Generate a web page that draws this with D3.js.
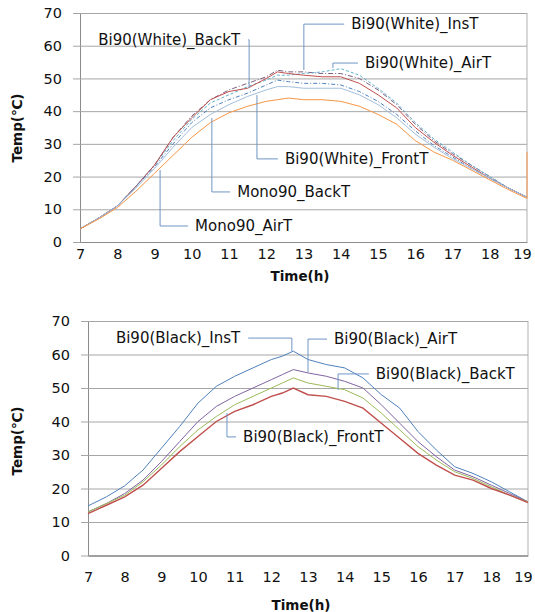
<!DOCTYPE html>
<html>
<head>
<meta charset="utf-8">
<script src="https://d3js.org/d3.v7.min.js"></script>
<style>
  body { margin: 0; background: #fff; }
  svg text { font-family: "DejaVu Sans", sans-serif; fill: #111; }
</style>
</head>
<body>
<div id="chart"></div>
<script>
// ---- data ----
// time of day in hours, shared by every series
let hours = [7, 7.5, 8, 8.5, 9, 9.5, 10, 10.5, 11, 11.5, 12, 12.3, 12.6, 13, 13.5, 14, 14.5, 15, 15.5, 16, 16.5, 17, 17.5, 18, 18.5, 19];
let hourTicks = [7, 8, 9, 10, 11, 12, 13, 14, 15, 16, 17, 18, 19];
let tempTicks = [0, 10, 20, 30, 40, 50, 60, 70];

// upper panel: white backsheet bifacial + mono
let whiteInsT   = [4, 7.3, 11, 17, 23.5, 32, 38.5, 43.5, 46.5, 48.5, 50.5, 52.5, 52, 52, 51.5, 51.5, 50, 46.5, 42, 36, 31, 27, 23.5, 20, 16.5, 13.7];
let whiteAirT   = [4, 7.3, 11, 17, 23.5, 31, 37.5, 42.5, 45, 47.5, 49.5, 51, 51, 51.5, 52, 53, 51, 47, 42.5, 36.5, 31.5, 27.5, 23.5, 20, 16.5, 13.7];
let whiteBackT  = [4, 7.3, 11, 17, 23.5, 32, 38, 43.5, 46, 47, 50, 52, 51.5, 51, 50.5, 50.5, 48.5, 45, 41, 35, 30.5, 26.5, 23, 19.5, 16.5, 13.7];
let whiteFrontT = [4, 7.3, 11, 17, 23, 30, 36.5, 41, 43.5, 45.5, 48, 49.5, 49, 48.5, 48.5, 48, 46, 43, 39, 34, 29.5, 26, 22.5, 19.5, 16.5, 13.7];
let monoBackT   = [4, 7.3, 11, 16.5, 22.5, 29, 35, 39, 42, 44.5, 46.5, 47.5, 47.5, 47, 47, 47, 45, 42, 38, 33, 29, 25.5, 22.5, 19.5, 16.5, 13.7];
let monoAirT    = [4, 7, 10.5, 15.5, 21, 26.5, 32, 36.5, 39.5, 41.5, 43, 43.5, 44, 43.5, 43.5, 43, 41.5, 39, 36, 31, 27.5, 25, 22, 19, 16, 13.3];
let monoAirTEnd = 27.5; // last reading at 19h jumps back up

// lower panel: black backsheet bifacial
let blackInsT   = [14.8, 17.5, 20.8, 25.5, 32, 38.5, 45.5, 50.5, 53.5, 56, 58.5, 59.5, 61, 58.5, 57, 56, 53, 48, 44, 37, 31.5, 26.5, 24.5, 22, 19, 16];
let blackAirT   = [13, 15.5, 18.5, 22.5, 28, 34, 40, 44.5, 47.5, 50, 52.5, 54, 55.5, 54.5, 53.5, 52, 50, 45, 39.5, 34, 29.5, 25.5, 23.5, 21, 18.5, 16];
let blackBackT  = [13, 15.5, 18, 22, 27, 32.5, 37.5, 41.5, 45, 47.5, 50, 51.5, 53, 51.5, 50.5, 49.5, 47, 42.5, 37.5, 32.5, 28.5, 25, 23, 20.5, 18, 16];
let blackFrontT = [12.5, 15, 17.5, 21, 26, 31, 35.5, 40, 43, 45, 47.5, 48.5, 50, 48, 47.5, 46, 44, 39.5, 35, 30.5, 27, 24, 22.5, 20, 18, 15.8];

// ---- series styles ----
let topSeries = [
  {name: "Bi90(White)_InsT",   values: whiteInsT,   color: "#7b5f80", dash: "5,2,1,2"},
  {name: "Bi90(White)_AirT",   values: whiteAirT,   color: "#5fb0cc", dash: "3,2"},
  {name: "Bi90(White)_BackT",  values: whiteBackT,  color: "#c0504d", dash: null},
  {name: "Bi90(White)_FrontT", values: whiteFrontT, color: "#4f81bd", dash: "4,2,1,2"},
  {name: "Mono90_BackT",       values: monoBackT,   color: "#a3bedc", dash: null},
  {name: "Mono90_AirT",        values: monoAirT,    color: "#f79646", dash: null, end: monoAirTEnd}
];
let bottomSeries = [
  {name: "Bi90(Black)_InsT",   values: blackInsT,   color: "#4f81bd", dash: null},
  {name: "Bi90(Black)_AirT",   values: blackAirT,   color: "#8064a2", dash: null},
  {name: "Bi90(Black)_BackT",  values: blackBackT,  color: "#9bbb59", dash: null},
  {name: "Bi90(Black)_FrontT", values: blackFrontT, color: "#c0504d", dash: null, width: 1.4}
];

// callout labels: tip = point on the curve, at = text position (both in data units)
let topLabels = [
  {text: "Bi90(White)_BackT",  tip: [11.54, 47.1], at: [11.30, 61.8], anchor: "end"},
  {text: "Bi90(White)_InsT",   tip: [13.01, 52.6], at: [14.28, 66.6], anchor: "start"},
  {text: "Bi90(White)_AirT",   tip: [13.79, 53.2], at: [14.65, 54.7], anchor: "start"},
  {text: "Bi90(White)_FrontT", tip: [11.75, 44.9], at: [12.50, 25.4], anchor: "start"},
  {text: "Mono90_BackT",       tip: [10.54, 37.9], at: [11.22, 15.3], anchor: "start"},
  {text: "Mono90_AirT",        tip: [9.15, 22.0],  at: [10.09, 4.9],  anchor: "start"}
];
let bottomLabels = [
  {text: "Bi90(Black)_InsT",   tip: [12.56, 61.0], at: [11.15, 64.9], anchor: "end"},
  {text: "Bi90(Black)_AirT",   tip: [13.00, 54.8], at: [13.71, 64.6], anchor: "start"},
  {text: "Bi90(Black)_BackT",  tip: [13.82, 49.4], at: [14.85, 54.2], anchor: "start"},
  {text: "Bi90(Black)_FrontT", tip: [10.79, 42.5], at: [11.23, 35.4], anchor: "start"}
];

let svg = d3.select("#chart")
  .append("svg")
  .attr("width", 535)
  .attr("height", 612);

function drawPanel(p) {
  let x = d3.scaleLinear().domain([7, 19]).range([p.left, p.right]);
  let y = d3.scaleLinear().domain([0, 70]).range([p.bottom, p.top]);
  let w = p.right - p.left;

  let g = svg.append("g");

  // y axis with gridlines
  let yAxis = g.append("g")
    .attr("transform", `translate(${p.left},0)`)
    .call(d3.axisLeft(y).tickValues(tempTicks).tickSize(-w).tickPadding(18));
  yAxis.select(".domain").attr("stroke", "#8c8c8c");
  yAxis.selectAll(".tick line")
    .attr("x1", -7)
    .attr("stroke", "#a6a6a6");
  yAxis.selectAll(".tick text")
    .attr("font-size", 14.5)
    .attr("font-family", "DejaVu Sans");

  // right border
  g.append("line")
    .attr("x1", p.right).attr("x2", p.right)
    .attr("y1", p.top).attr("y2", p.bottom)
    .attr("stroke", "#b0b0b0");

  // x axis
  let xAxis = g.append("g")
    .attr("transform", `translate(0,${p.bottom})`)
    .call(d3.axisBottom(x).tickValues(hourTicks).tickSize(0).tickPadding(p.xPad));
  xAxis.select(".domain").attr("stroke", "#8c8c8c");
  xAxis.selectAll(".tick text")
    .attr("font-size", 14.5)
    .attr("font-family", "DejaVu Sans")
    .attr("dx", d => d == 19 ? -5 : 0); // keep last label inside the page

  // lines
  let line = d3.line().x(d => x(d[0])).y(d => y(d[1]));
  p.series.forEach(function(s) {
    let pts = hours.map((h, i) => [h, s.values[i]]);
    if (s.end !== undefined) pts.push([19, s.end]);
    g.append("path")
      .datum(pts)
      .attr("d", line)
      .attr("fill", "none")
      .attr("stroke", s.color)
      .attr("stroke-width", s.width || 1)
      .attr("stroke-dasharray", s.dash);
  });

  // callouts
  p.labels.forEach(function(l) {
    let tx = x(l.tip[0]), ty = y(l.tip[1]);
    let lx = x(l.at[0]), ly = y(l.at[1]);
    let gap = l.anchor == "end" ? 8 : -7;
    g.append("polyline")
      .attr("points", `${tx},${ty} ${tx},${ly} ${lx + gap},${ly}`)
      .attr("fill", "none")
      .attr("stroke", "#6f95c4")
      .attr("stroke-width", 1);
    g.append("text")
      .attr("x", lx)
      .attr("y", ly)
      .attr("dy", "0.35em")
      .attr("text-anchor", l.anchor)
      .attr("font-size", 15)
      .text(l.text);
  });

  // axis titles
  g.append("text")
    .attr("transform", `translate(${p.yTitle[0]},${p.yTitle[1]}) rotate(-90)`)
    .attr("text-anchor", "middle")
    .attr("dy", "0.35em")
    .attr("font-size", 13.5)
    .attr("font-weight", "bold")
    .text("Temp(℃)");
  g.append("text")
    .attr("x", p.xTitle[0])
    .attr("y", p.xTitle[1])
    .attr("text-anchor", "middle")
    .attr("dy", "0.35em")
    .attr("font-size", 13.5)
    .attr("font-weight", "bold")
    .text("Time(h)");
}

drawPanel({left: 80, right: 527, top: 13, bottom: 242, xPad: 7,
  series: topSeries, labels: topLabels, yTitle: [17, 128], xTitle: [300, 276]});
drawPanel({left: 88, right: 528, top: 321, bottom: 555.5, xPad: 16,
  series: bottomSeries, labels: bottomLabels, yTitle: [17, 441], xTitle: [301, 605]});
</script>
</body>
</html>
